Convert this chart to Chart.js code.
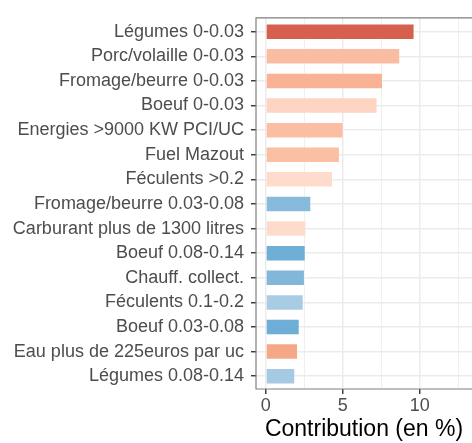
<!DOCTYPE html>
<html>
<head>
<meta charset="utf-8">
<script src="https://cdn.jsdelivr.net/npm/chart.js@4/dist/chart.umd.min.js"></script>
<style>
  html, body { margin: 0; padding: 0; background: #ffffff; }
  #wrap { width: 472px; height: 443px; }
</style>
</head>
<body>
<div id="wrap"><canvas id="contribChart" width="472" height="443"></canvas></div>
<script>
// Categories, top to bottom
var categories = [
  "Légumes 0-0.03",
  "Porc/volaille 0-0.03",
  "Fromage/beurre 0-0.03",
  "Boeuf 0-0.03",
  "Energies >9000 KW PCI/UC",
  "Fuel Mazout",
  "Féculents >0.2",
  "Fromage/beurre 0.03-0.08",
  "Carburant plus de 1300 litres",
  "Boeuf 0.08-0.14",
  "Chauff. collect.",
  "Féculents 0.1-0.2",
  "Boeuf 0.03-0.08",
  "Eau plus de 225euros par uc",
  "Légumes 0.08-0.14"
];

// Contribution in %
var contributions = [9.67, 8.74, 7.62, 7.27, 5.06, 4.82, 4.37, 2.96, 2.64, 2.60, 2.55, 2.47, 2.21, 2.10, 1.92];

// x axis breaks (major every 5, minor in between)
var xTicks = [0, 2.5, 5, 7.5, 10, 12.5];

// bar fill colours
var barColors = [
  "#D6604D", "#FBBDA2", "#F9B394", "#FDD5C2", "#FBBEA2",
  "#FBBFA3", "#FDDCCB", "#88BADB", "#FEDCCC", "#6FAED5",
  "#82B7DA", "#A8CCE4", "#6DADD6", "#F5A886", "#A6CAE3"
];

var FONT = "'Liberation Sans', Arial, sans-serif";

function isMajor(ctx) {
  return ctx.tick && ctx.tick.value % 5 === 0;
}

// frame around the panel (top, left, bottom)
var panelFrame = {
  id: "panelFrame",
  afterDatasetsDraw: function (chart) {
    var a = chart.chartArea;
    var c = chart.ctx;
    c.save();
    c.strokeStyle = "#7F7F7F";
    c.lineWidth = 1.2;
    c.beginPath();
    c.moveTo(chart.width, a.top);
    c.lineTo(a.left, a.top);
    c.lineTo(a.left, a.bottom);
    c.lineTo(chart.width, a.bottom);
    c.stroke();
    c.restore();
  }
};

var contribChart = new Chart("contribChart", {
  type: "bar",
  data: {
    datasets: [{
      data: contributions.map(function (v, i) { return { x: v, y: i }; }),
      backgroundColor: barColors,
      borderColor: "rgba(255,255,255,0.35)",
      borderWidth: 1,
      barPercentage: 0.67,
      categoryPercentage: 1
    }]
  },
  options: {
    indexAxis: "y",
    responsive: false,
    animation: false,
    devicePixelRatio: 1,
    layout: { padding: { top: 15, right: 0, bottom: 0, left: 0 } },
    plugins: {
      legend: { display: false },
      tooltip: { enabled: false }
    },
    scales: {
      x: {
        type: "linear",
        min: -0.63,
        max: 13.4,
        offset: false,
        afterBuildTicks: function (scale) {
          scale.ticks = xTicks.map(function (v) { return { value: v }; });
        },
        afterFit: function (scale) { scale.height = 54; },
        border: { display: false },
        grid: {
          offset: false,
          color: "#EBEBEB",
          lineWidth: function (ctx) { return isMajor(ctx) ? 1.5 : 0.8; },
          tickColor: function (ctx) { return isMajor(ctx) ? "#333333" : "rgba(0,0,0,0)"; },
          tickWidth: 1.4,
          tickLength: 5
        },
        ticks: {
          padding: 1,
          color: "#4D4D4D",
          font: { family: FONT, size: 18 },
          maxRotation: 0,
          callback: function (value) { return value % 5 === 0 ? value : ""; }
        },
        title: {
          display: true,
          text: "Contribution (en %)",
          color: "#000000",
          font: { family: FONT, size: 23 },
          padding: { top: 0, bottom: 0 }
        }
      },
      y: {
        type: "linear",
        reverse: true,
        min: -0.565,
        max: 14.52,
        offset: false,
        afterBuildTicks: function (scale) {
          scale.ticks = categories.map(function (c, i) { return { value: i }; });
        },
        afterFit: function (scale) { scale.width = 256; },
        border: { display: false },
        grid: {
          offset: false,
          color: "#EBEBEB",
          lineWidth: 1.5,
          tickColor: "#333333",
          tickWidth: 1.4,
          tickLength: 5
        },
        ticks: {
          autoSkip: false,
          padding: 7,
          color: "#4D4D4D",
          font: { family: FONT, size: 18 },
          callback: function (value) { return categories[value]; }
        }
      }
    }
  },
  plugins: [panelFrame]
});
</script>
</body>
</html>
